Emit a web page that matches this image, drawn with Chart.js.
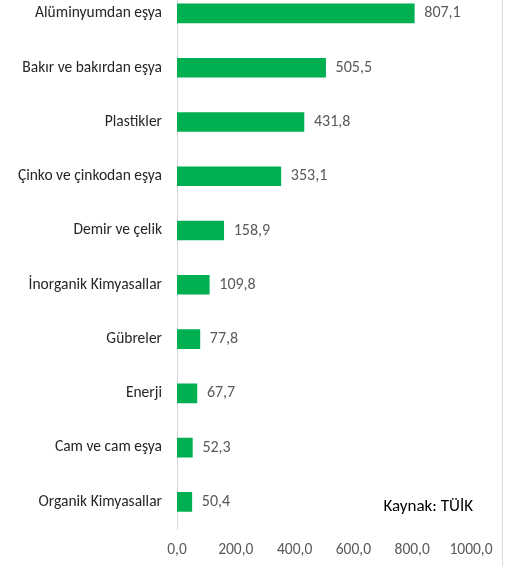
<!DOCTYPE html>
<html>
<head>
<meta charset="utf-8">
<script src="https://cdn.jsdelivr.net/npm/chart.js@4"></script>
<style>
  html, body { margin: 0; padding: 0; background: #fff; overflow: hidden; }
  #wrap { position: absolute; left: 0; top: -38px; width: 514px; height: 604px; }
</style>
</head>
<body>
<div id="wrap"><canvas id="myChart" width="514" height="604"></canvas></div>
<script>
const categories = ['Alüminyumdan eşya', 'Bakır ve bakırdan eşya', 'Plastikler', 'Çinko ve çinkodan eşya',
  'Demir ve çelik', 'İnorganik Kimyasallar', 'Gübreler', 'Enerji', 'Cam ve cam eşya', 'Organik Kimyasallar'];
const values = [807.1, 505.5, 431.8, 353.1, 158.9, 109.8, 77.8, 67.7, 52.3, 50.4];
const xTicks = [0, 200, 400, 600, 800, 1000];
const sourceNote = 'Kaynak: TÜİK';

const fontFamily = 'Carlito, Lato, "Open Sans", sans-serif';
const fmt = v => v.toFixed(1).replace('.', ',');

const valueLabels = {
  id: 'valueLabels',
  afterDatasetsDraw(chart) {
    const ctx = chart.ctx;
    const meta = chart.getDatasetMeta(0);
    ctx.save();
    ctx.font = '16px ' + fontFamily;
    ctx.fillStyle = '#595959';
    ctx.textBaseline = 'middle';
    ctx.textAlign = 'left';
    meta.data.forEach((bar, i) => {
      ctx.fillText(fmt(values[i]), bar.x + 10, bar.y);
    });
    // source note
    ctx.fillStyle = '#000';
    ctx.textAlign = 'right';
    ctx.font = '17px ' + fontFamily;
    ctx.fillText(sourceNote, chart.chartArea.right + 2, chart.chartArea.bottom - 22);
    // right border of chart frame
    ctx.strokeStyle = '#d9d9d9';
    ctx.lineWidth = 1;
    ctx.beginPath();
    ctx.moveTo(502.5, 0);
    ctx.lineTo(502.5, chart.height);
    ctx.stroke();
    ctx.restore();
  }
};

const ctx = document.getElementById('myChart');
new Chart(ctx, {
  type: 'bar',
  data: {
    labels: categories,
    datasets: [{
      data: values,
      backgroundColor: '#00B050',
      borderWidth: 0,
      barThickness: 19
    }]
  },
  options: {
    indexAxis: 'y',
    responsive: false,
    animation: false,
    layout: { padding: { left: 0, right: 43, top: 0, bottom: 0 } },
    plugins: {
      legend: { display: false },
      tooltip: { enabled: false }
    },
    scales: {
      x: {
        min: 0,
        max: 1000,
        afterBuildTicks: s => { s.ticks = xTicks.map(v => ({ value: v })); },
        afterFit: s => { s.height = 37; },
        grid: { display: false, drawTicks: false },
        border: { display: false },
        ticks: {
          padding: 12,
          color: '#595959',
          font: { family: fontFamily, size: 15.5 },
          maxRotation: 0,
          callback: v => fmt(v)
        }
      },
      y: {
        afterFit: s => { s.width = 177; },
        grid: { display: false, drawTicks: false },
        border: { display: true, color: '#d9d9d9', width: 1 },
        ticks: {
          padding: 15,
          color: '#262626',
          font: { family: fontFamily, size: 15.5 }
        }
      }
    }
  },
  plugins: [valueLabels]
});
</script>
</body>
</html>
